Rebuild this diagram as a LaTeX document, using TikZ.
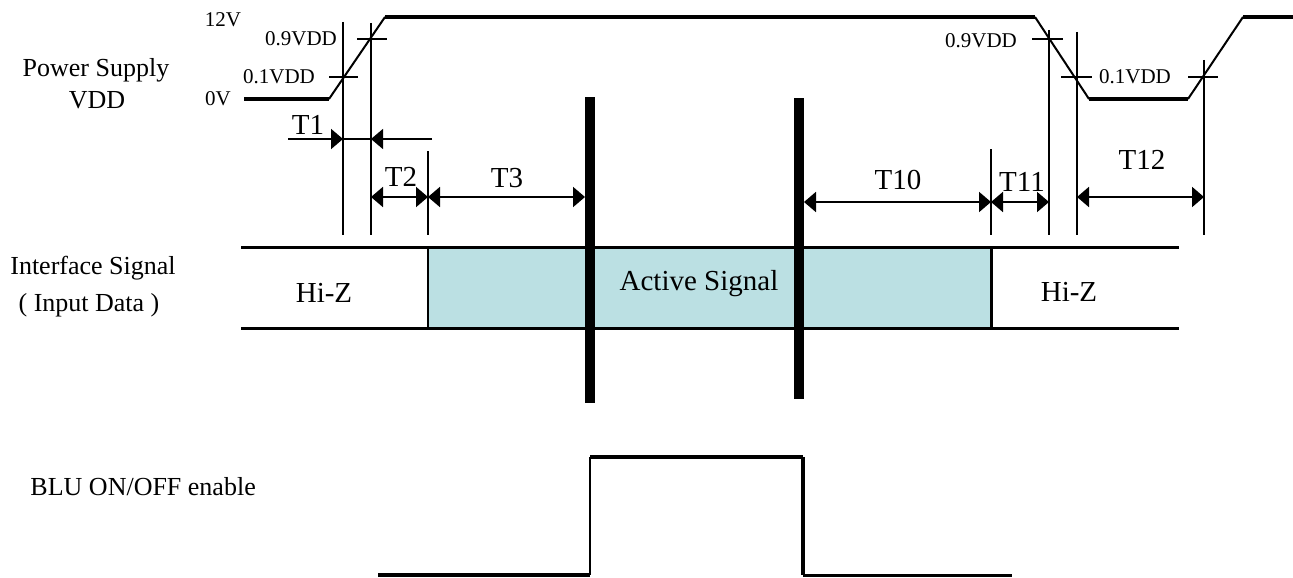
\documentclass[tikz,border=0pt]{standalone}
\usepackage{fontspec}
\setmainfont{Liberation Serif}
\usetikzlibrary{arrows.meta}
\definecolor{activefill}{RGB}{187,224,227}
\tikzset{
 lbl/.style={font=\fontsize{26}{30}\selectfont, inner sep=0pt},
 tlbl/.style={font=\fontsize{29}{32}\selectfont, inner sep=0pt},
 vlbl/.style={font=\fontsize{21}{24}\selectfont, inner sep=0pt},
 level/.style={line width=4pt},
 ramp/.style={line width=2pt},
 tline/.style={line width=2.5pt},
 tickmark/.style={line width=2pt},
 dimboth/.style={line width=2pt, {Triangle[length=12pt,width=20pt]}-{Triangle[length=12pt,width=20pt]}},
 dimone/.style={line width=2pt, -{Triangle[length=12pt,width=20pt]}},
 barline/.style={line width=10pt},
}
\begin{document}
\begin{tikzpicture}[x=1pt,y=-1pt]
\useasboundingbox (0,0) rectangle (1293,578);
\fill[white] (0,0) rectangle (1293,578);

% ---------- left labels ----------
\node[lbl] (ps) at (96,70) {Power Supply};
\node[lbl] (vdd) at (97,100) {VDD};
\node[lbl] (ifs) at (93,268) {Interface Signal};
\node[lbl] (ind) at (89,305) {( Input Data )};
\node[lbl, anchor=east] (blu) at (256,487) {BLU ON/OFF enable};

% ---------- power supply waveform ----------
\coordinate (p0) at (244,99);
\coordinate (p1) at (329,99);
\coordinate (p2) at (385,17);
\coordinate (p3) at (1035,17);
\coordinate (p4) at (1089,99);
\coordinate (p5) at (1188,99);
\coordinate (p6) at (1243,17);
\coordinate (p7) at (1293,17);
\draw[level] (p0) -- (p1);
\draw[ramp] (p1) -- (p2);
\draw[level] (p2) -- (p3);
\draw[ramp] (p3) -- (p4);
\draw[level] (p4) -- (p5);
\draw[ramp] (p5) -- (p6);
\draw[level] (p6) -- (p7);

\node[vlbl] (v12) at (223,20) {12V};
\node[vlbl] (v0) at (218,99) {0V};
\node[vlbl] (l01a) at (279,77) {0.1VDD};
\node[vlbl] (l09a) at (301,39) {0.9VDD};
\node[vlbl] (l09b) at (981,41) {0.9VDD};
\node[vlbl] (l01b) at (1135,77) {0.1VDD};

% tick marks
\coordinate (k1a) at (329,77); \coordinate (k1b) at (358,77);
\coordinate (k2a) at (357,39); \coordinate (k2b) at (387,39);
\coordinate (k3a) at (1032,39); \coordinate (k3b) at (1063,39);
\coordinate (k4a) at (1061,77); \coordinate (k4b) at (1092,77);
\coordinate (k5a) at (1188,77); \coordinate (k5b) at (1218,77);
\draw[tickmark] (k1a) -- (k1b);
\draw[tickmark] (k2a) -- (k2b);
\draw[tickmark] (k3a) -- (k3b);
\draw[tickmark] (k4a) -- (k4b);
\draw[tickmark] (k5a) -- (k5b);

% vertical timing lines
\coordinate (va1) at (343,22);  \coordinate (vb1) at (343,235);
\coordinate (va2) at (371,23);  \coordinate (vb2) at (371,235);
\coordinate (va3) at (428,151); \coordinate (vb3) at (428,235);
\coordinate (va4) at (991,149); \coordinate (vb4) at (991,235);
\coordinate (va5) at (1049,30); \coordinate (vb5) at (1049,235);
\coordinate (va6) at (1077,32); \coordinate (vb6) at (1077,235);
\coordinate (va7) at (1204,60); \coordinate (vb7) at (1204,235);
\draw[tline] (va1) -- (vb1);
\draw[tline] (va2) -- (vb2);
\draw[tline] (va3) -- (vb3);
\draw[tline] (va4) -- (vb4);
\draw[tline] (va5) -- (vb5);
\draw[tline] (va6) -- (vb6);
\draw[tline] (va7) -- (vb7);

% ---------- interface signal ----------
\fill[activefill] (428,247) rectangle (991,328);
\coordinate (bl) at (241,247); \coordinate (br) at (1179,247);
\coordinate (cl) at (241,328); \coordinate (cr) at (1179,328);
\draw[line width=3pt] (bl) -- (br);
\draw[line width=3pt] (cl) -- (cr);
\coordinate (e1a) at (428,247); \coordinate (e1b) at (428,328);
\coordinate (e2a) at (991,247); \coordinate (e2b) at (991,328);
\draw[line width=1.5pt] (e1a) -- (e1b);
\draw[line width=3pt] (e2a) -- (e2b);
\node[tlbl] (hz1) at (324,293) {Hi-Z};
\node[tlbl] (act) at (699,284) {Active Signal};
\node[tlbl] (hz2) at (1069,292) {Hi-Z};

% ---------- thick bars ----------
\coordinate (ba1) at (590,97);  \coordinate (bb1) at (590,403);
\coordinate (ba2) at (799,98);  \coordinate (bb2) at (799,399);
\draw[barline] (ba1) -- (bb1);
\draw[barline] (ba2) -- (bb2);

% ---------- dimension arrows ----------
\coordinate (t1a) at (288,139); \coordinate (t1b) at (343,139);
\coordinate (t1c) at (371,139); \coordinate (t1d) at (432,139);
\draw[dimone] (t1a) -- (t1b);
\draw[tickmark] (t1b) -- (t1c);
\draw[dimone, line width=1.5pt] (t1d) -- (t1c);
\node[tlbl] (T1) at (308,125) {T1};

\coordinate (t2a) at (371,197); \coordinate (t2b) at (428,197);
\draw[dimboth] (t2a) -- (t2b);
\node[tlbl] (T2) at (401,177) {T2};

\coordinate (t3a) at (428,197); \coordinate (t3b) at (585,197);
\draw[dimboth] (t3a) -- (t3b);
\node[tlbl] (T3) at (507,178) {T3};

\coordinate (t10a) at (804,202); \coordinate (t10b) at (991,202);
\draw[dimboth] (t10a) -- (t10b);
\node[tlbl] (T10) at (898,180) {T10};

\coordinate (t11a) at (991,202); \coordinate (t11b) at (1049,202);
\draw[dimboth] (t11a) -- (t11b);
\node[tlbl] (T11) at (1022,182) {T11};

\coordinate (t12a) at (1077,197); \coordinate (t12b) at (1204,197);
\draw[dimboth] (t12a) -- (t12b);
\node[tlbl] (T12) at (1142,160) {T12};

% ---------- BLU enable ----------
\coordinate (q0) at (378,575);
\coordinate (q1) at (590,575);
\coordinate (q2) at (590,457);
\coordinate (q3) at (803,457);
\coordinate (q4) at (803,575);
\coordinate (q5) at (1012,575);
\draw[level] (q0) -- (q1);
\draw[ramp] (q1) -- (q2);
\draw[level] (q2) -- (q3);
\draw[level] (q3) -- (q4);
\draw[line width=3pt] (q4) -- (q5);
\end{tikzpicture}
\end{document}
